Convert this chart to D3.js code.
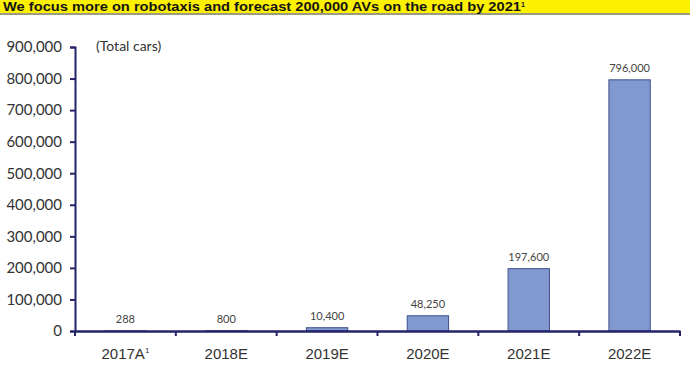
<!DOCTYPE html>
<html>
<head>
<meta charset="utf-8">
<script src="https://cdn.jsdelivr.net/npm/d3@7"></script>
<style>
  body { margin: 0; background: #fff; }
  svg { display: block; font-family: Lato, "Open Sans", sans-serif; }
</style>
</head>
<body>
<div id="chart"></div>
<script>
var years = ["2017A", "2018E", "2019E", "2020E", "2021E", "2022E"];
var cars = [288, 800, 10400, 48250, 197600, 796000];
var yTicks = [0, 100000, 200000, 300000, 400000, 500000, 600000, 700000, 800000, 900000];

var W = 700, H = 371;
var margin = { top: 47, right: 20, bottom: 40, left: 75 },
    width = 680 - margin.left,
    height = 331 - margin.top;

var svg = d3.select("#chart")
    .append("svg")
    .attr("width", W)
    .attr("height", H);

// title banner
svg.append("rect")
    .attr("x", 0).attr("y", 13).attr("width", 690).attr("height", 2)
    .attr("fill", "#9a9a80");
svg.append("rect")
    .attr("x", 0).attr("y", 0).attr("width", 690).attr("height", 13)
    .attr("fill", "#fdf000");
var title = svg.append("text")
    .attr("x", 3).attr("y", 11)
    .style("font-family", "'Liberation Sans Narrow', 'Liberation Sans', sans-serif")
    .style("font-weight", "bold")
    .style("font-size", "13px")
    .attr("fill", "#141414");
title.append("tspan")
    .attr("textLength", 518)
    .attr("lengthAdjust", "spacingAndGlyphs")
    .text("We focus more on robotaxis and forecast 200,000 AVs on the road by 2021");
title.append("tspan").attr("dy", -4).style("font-size", "7px").text("1");

var g = svg.append("g")
    .attr("transform", "translate(" + margin.left + "," + margin.top + ")");

var x = d3.scaleBand()
    .domain(years)
    .range([0, width]);

var y = d3.scaleLinear()
    .domain([0, 900000])
    .range([height, 0]);

var fmt = d3.format(",");

// bars
var barW = x.bandwidth() * 0.41;
g.selectAll("rect.bar")
    .data(years)
    .enter()
    .append("rect").attr("class", "bar")
    .attr("x", function (d) { return x(d) + (x.bandwidth() - barW) / 2 })
    .attr("y", function (d, i) { return y(cars[i]) })
    .attr("width", barW)
    .attr("height", function (d, i) { return height - y(cars[i]) })
    .attr("fill", "#8199cf")
    .attr("stroke", "#3d4f8e")
    .attr("stroke-width", 1);

// value labels
g.selectAll("text.val")
    .data(years)
    .enter()
    .append("text").attr("class", "val")
    .attr("x", function (d) { return x(d) + x.bandwidth() / 2 })
    .attr("y", function (d, i) { return y(cars[i]) - 8 })
    .attr("text-anchor", "middle")
    .style("font-size", "11px")
    .attr("fill", "#444")
    .text(function (d, i) { return fmt(cars[i]) });

// y axis
var yAxis = g.append("g")
    .call(d3.axisLeft(y).tickValues(yTicks).tickFormat(fmt).tickSizeOuter(0).tickSize(5));
yAxis.select(".domain").attr("stroke", "#23236a").attr("stroke-width", 2);
yAxis.selectAll(".tick line").attr("stroke", "#23236a").attr("stroke-width", 2);
yAxis.selectAll(".tick text")
    .attr("x", -13)
    .style("font-size", "15px")
    .style("font-family", "Lato, sans-serif")
    .attr("fill", "#333");

// x axis
var xAxis = g.append("g")
    .attr("transform", "translate(0," + height + ")")
    .call(d3.axisBottom(x).tickSize(0).tickFormat(""));
xAxis.select(".domain").attr("stroke", "#23236a").attr("stroke-width", 2.5);
xAxis.selectAll(".tick").remove();

// category separators
var seps = d3.range(years.length + 1);
xAxis.selectAll("line.sep")
    .data(seps)
    .enter()
    .append("line").attr("class", "sep")
    .attr("x1", function (d) { return d * x.step() })
    .attr("x2", function (d) { return d * x.step() })
    .attr("y1", 0).attr("y2", 5)
    .attr("stroke", "#23236a")
    .attr("stroke-width", 2);

var cats = xAxis.selectAll("text.cat")
    .data(years)
    .enter()
    .append("text").attr("class", "cat")
    .attr("x", function (d) { return x(d) + x.bandwidth() / 2 })
    .attr("y", 28)
    .attr("text-anchor", "middle")
    .style("font-size", "15px")
    .attr("fill", "#333");
cats.append("tspan").text(function (d) { return d });
cats.filter(function (d) { return d === "2017A" })
    .append("tspan").attr("dy", -6).style("font-size", "8px").text("1");

// unit note
svg.append("text")
    .attr("x", 96).attr("y", 51)
    .style("font-size", "14px")
    .attr("fill", "#333")
    .text("(Total cars)");
</script>
</body>
</html>
